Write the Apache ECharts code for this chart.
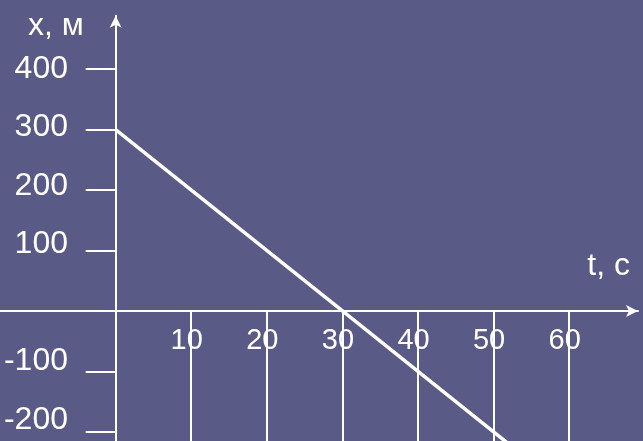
<!DOCTYPE html>
<html>
<head>
<meta charset="utf-8">
<script src="https://cdn.jsdelivr.net/npm/echarts@6/dist/echarts.min.js"></script>
<style>
  html, body { margin: 0; padding: 0; background: #5a5a87; }
  #chart { width: 643px; height: 441px; }
</style>
</head>
<body>
<div id="chart"></div>
<script>
// x(t) = 300 - 10t
var tValues = [0, 30, 52];
var xValues = [300, 0, -220];

var tTicks = [10, 20, 30, 40, 50, 60];
var xTicks = [400, 300, 200, 100, -100, -200];

var tName = 't, c';
var xName = 'x, м';

var font = 'Liberation Sans';

var points = [];
for (var i = 0; i < tValues.length; i++) {
    points.push([tValues[i], xValues[i]]);
}

// on the slide the y labels creep upward the lower they sit
var yRich = {};
for (var k = 0; k < xTicks.length; k++) {
    var lift = (xTicks[0] - xTicks[k]) / 50;
    yRich['y' + k] = { color: '#ffffff', fontSize: 32, fontFamily: font, padding: [0, 0, 2 * lift, 0] };
}

var option = {
    backgroundColor: '#5a5a87',
    animation: false,
    grid: {
        left: 0,
        right: 5,
        top: 15.8,
        bottom: 0,
        containLabel: false,
        outerBoundsMode: 'none'
    },
    xAxis: {
        type: 'value',
        min: -15.3,
        max: 69.1,
        axisLine: {
            show: true,
            onZero: true,
            symbol: ['none', 'arrow'],
            symbolSize: [9, 12],
            lineStyle: { color: '#ffffff', width: 2 }
        },
        axisTick: {
            show: true,
            customValues: tTicks,
            length: 140,
            lineStyle: { color: '#ffffff', width: 2 }
        },
        axisLabel: {
            show: true,
            customValues: tTicks,
            // labels sit off the grid edge, not the zero line
            margin: -115,
            color: '#ffffff',
            fontSize: 29,
            fontFamily: font,
            formatter: function (v) {
                return '{t|' + v + '}';
            },
            rich: {
                t: { color: '#ffffff', fontSize: 29, fontFamily: font, padding: [0, 9, 0, 0] }
            }
        },
        splitLine: { show: false }
    },
    yAxis: {
        type: 'value',
        min: -215,
        max: 488,
        axisLine: {
            show: true,
            onZero: true,
            symbol: ['none', 'arrow'],
            symbolSize: [9, 12],
            lineStyle: { color: '#ffffff', width: 2 }
        },
        axisTick: {
            show: true,
            customValues: xTicks,
            length: 30,
            lineStyle: { color: '#ffffff', width: 2 }
        },
        axisLabel: {
            show: true,
            customValues: xTicks,
            margin: -68,
            color: '#ffffff',
            fontSize: 32,
            fontFamily: font,
            formatter: function (v) {
                var idx = xTicks.indexOf(v);
                return '{y' + idx + '|' + v + '}';
            },
            rich: yRich
        },
        splitLine: { show: false }
    },
    graphic: [
        {
            type: 'text',
            style: {
                text: xName,
                x: 28,
                y: 26,
                fill: '#ffffff',
                font: '32px "Liberation Sans"',
                textAlign: 'left',
                textVerticalAlign: 'middle'
            }
        },
        {
            type: 'text',
            style: {
                text: tName,
                x: 630,
                y: 266,
                fill: '#ffffff',
                font: '32px "Liberation Sans"',
                textAlign: 'right',
                textVerticalAlign: 'middle'
            }
        }
    ],
    series: [{
        type: 'line',
        data: points,
        showSymbol: false,
        clip: true,
        lineStyle: { color: '#ffffff', width: 3.5 }
    }]
};

var chartDom = document.getElementById('chart');
var chart = echarts.init(chartDom);
chart.setOption(option, true);
</script>
</body>
</html>
